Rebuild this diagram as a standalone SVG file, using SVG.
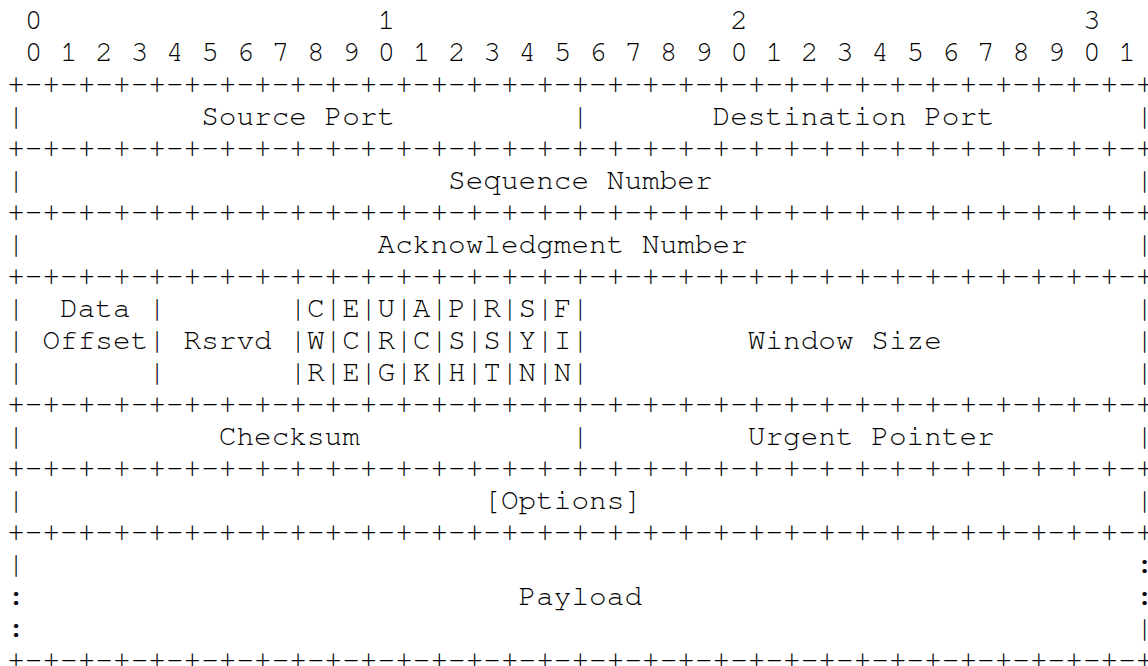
<svg xmlns="http://www.w3.org/2000/svg" width="1148" height="666" viewBox="0 0 1148 666" xml:space="preserve">
<style>
text { font-family: "Nimbus Mono PS", "Nimbus Mono L", "FreeMono", "Courier New", "Liberation Mono", monospace; font-size: 29.4px; fill: #000; white-space: pre; }
</style>
<rect x="0" y="0" width="1148" height="666" fill="#ffffff"/>
<g id="bit-ruler">
<text x="7.2" y="28.6"> 0                   1                   2                   3</text>
<text x="7.2" y="60.6"> 0 1 2 3 4 5 6 7 8 9 0 1 2 3 4 5 6 7 8 9 0 1 2 3 4 5 6 7 8 9 0 1</text>
</g>
<g id="connectors">
<text x="7.2" y="92.6">+-+-+-+-+-+-+-+-+-+-+-+-+-+-+-+-+-+-+-+-+-+-+-+-+-+-+-+-+-+-+-+-+</text>
<text x="7.2" y="156.6">+-+-+-+-+-+-+-+-+-+-+-+-+-+-+-+-+-+-+-+-+-+-+-+-+-+-+-+-+-+-+-+-+</text>
<text x="7.2" y="220.6">+-+-+-+-+-+-+-+-+-+-+-+-+-+-+-+-+-+-+-+-+-+-+-+-+-+-+-+-+-+-+-+-+</text>
<text x="7.2" y="284.6">+-+-+-+-+-+-+-+-+-+-+-+-+-+-+-+-+-+-+-+-+-+-+-+-+-+-+-+-+-+-+-+-+</text>
<text x="7.2" y="412.6">+-+-+-+-+-+-+-+-+-+-+-+-+-+-+-+-+-+-+-+-+-+-+-+-+-+-+-+-+-+-+-+-+</text>
<text x="7.2" y="476.6">+-+-+-+-+-+-+-+-+-+-+-+-+-+-+-+-+-+-+-+-+-+-+-+-+-+-+-+-+-+-+-+-+</text>
<text x="7.2" y="540.6">+-+-+-+-+-+-+-+-+-+-+-+-+-+-+-+-+-+-+-+-+-+-+-+-+-+-+-+-+-+-+-+-+</text>
<text x="7.2" y="668.6">+-+-+-+-+-+-+-+-+-+-+-+-+-+-+-+-+-+-+-+-+-+-+-+-+-+-+-+-+-+-+-+-+</text>
</g>
<g id="row-ports">
<text x="7.2" y="124.6">|          Source Port          |       Destination Port        |</text>
</g>
<g id="row-sequence">
<text x="7.2" y="188.6">|                        Sequence Number                        |</text>
</g>
<g id="row-ack">
<text x="7.2" y="252.6">|                    Acknowledgment Number                      |</text>
</g>
<g id="row-flags">
<text x="7.2" y="316.6">|  Data |       |C|E|U|A|P|R|S|F|                               |</text>
<text x="7.2" y="348.6">| Offset| Rsrvd |W|C|R|C|S|S|Y|I|         Window Size           |</text>
<text x="7.2" y="380.6">|       |       |R|E|G|K|H|T|N|N|                               |</text>
</g>
<g id="row-checksum">
<text x="7.2" y="444.6">|           Checksum            |         Urgent Pointer        |</text>
</g>
<g id="row-options">
<text x="7.2" y="508.6">|                          [Options]                            |</text>
</g>
<g id="row-payload">
<text x="7.2" y="572.6">|                                                               :</text>
<text x="7.2" y="604.6">:                            Payload                            :</text>
<text x="7.2" y="636.6">:                                                               |</text>
</g>
</svg>
